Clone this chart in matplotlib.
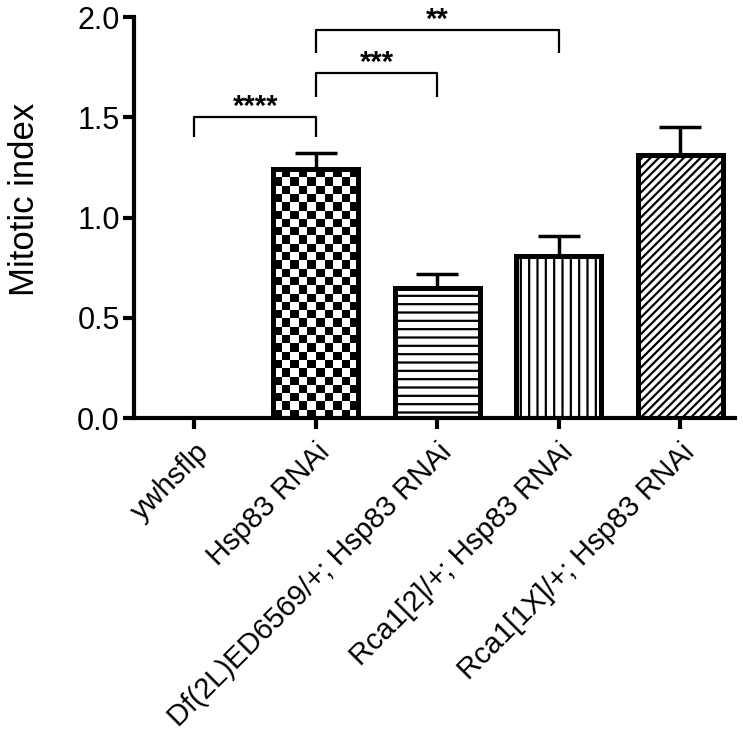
import numpy as np
import matplotlib
matplotlib.use("Agg")
import matplotlib.pyplot as plt

plt.rcParams['font.family'] = ['Liberation Sans', 'DejaVu Sans']
plt.rcParams['hatch.linewidth'] = 1.6

categories = ["ywhsflp", "Hsp83 RNAi", "Df(2L)ED6569/+; Hsp83 RNAi",
              "Rca1[2]/+; Hsp83 RNAi", "Rca1[1X]/+; Hsp83 RNAi"]
means = [0.0, 1.24, 0.65, 0.81, 1.31]
errors = [0.0, 0.08, 0.07, 0.10, 0.14]
hatches = [None, 'checker', '--', '||', '////']
# significance brackets: (i, j, bracket height, leg bottom, label)
sig_pairs = [(0, 1, 1.50, 1.40, "****"),
             (1, 2, 1.72, 1.60, "***"),
             (1, 3, 1.935, 1.82, "**")]
yticks = [0.0, 0.5, 1.0, 1.5, 2.0]

fig = plt.figure(figsize=(7.43, 7.44), dpi=100)
ax = fig.add_axes([0.180, 0.438, 0.809, 0.539])

x = np.arange(len(categories))
width = 0.7
bars = ax.bar(x, means, width=width, color='white', edgecolor='black',
              linewidth=3.6, zorder=2)
for b, h in zip(bars, hatches):
    if h and h != 'checker':
        b.set_hatch(h)

# checkerboard pattern for bars requesting it
for b, h in zip(bars, hatches):
    if h == 'checker':
        b.set_facecolor('none')
        x0, y0 = b.get_x(), b.get_y()
        w, hgt = b.get_width(), b.get_height()
        nx = max(1, int(round(w / 0.069)))
        ny = max(1, int(round(hgt / 0.0415)))
        ii, jj = np.meshgrid(np.arange(nx), np.arange(ny))
        board = ((ii + jj) % 2).astype(float)
        im = ax.imshow(board, cmap='gray', vmin=0, vmax=1,
                       extent=[x0, x0 + w, y0, y0 + hgt],
                       origin='lower', aspect='auto', interpolation='nearest',
                       zorder=1.5)
        im.set_clip_path(b)

ax.errorbar(x[1:], means[1:], yerr=[np.zeros(len(x) - 1), errors[1:]],
            fmt='none', ecolor='black', elinewidth=2.5, capsize=15,
            capthick=2.5, zorder=1)

for i, j, yb, yl, lab in sig_pairs:
    ax.plot([x[i], x[i], x[j], x[j]], [yl, yb, yb, yl], color='black',
            lw=1.6, solid_capstyle='butt', zorder=3)
    ax.text((x[i] + x[j]) / 2, yb - 0.02, lab, ha='center', va='bottom',
            fontsize=21, fontweight='bold')

ax.set_xlim(-0.5, 4.45)
ax.set_ylim(0, 2.0)
ax.set_aspect('auto')
ax.set_yticks(yticks)
ax.set_yticklabels([f"{v:.1f}" for v in yticks], fontsize=22)
ax.set_xticks(x)
ax.set_xticklabels(categories, rotation=45, ha='right', rotation_mode='anchor',
                   fontsize=21)
ax.set_ylabel("Mitotic index", fontsize=25)
ax.yaxis.set_label_coords(-0.155, 0.545)

for s in ['top', 'right']:
    ax.spines[s].set_visible(False)
for s in ['left', 'bottom']:
    ax.spines[s].set_linewidth(3.0)
ax.tick_params(axis='both', width=3.0, length=8, direction='out', pad=2)
ax.tick_params(axis='x', pad=6)

fig.savefig("out.png", dpi=100)
